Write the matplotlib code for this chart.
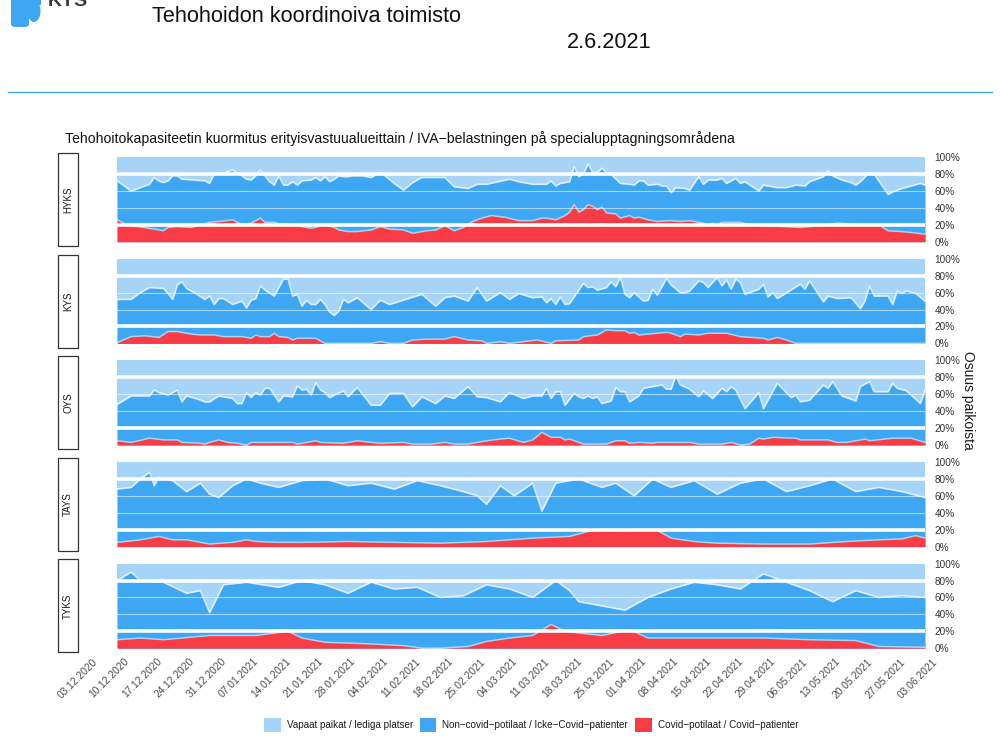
import datetime as dt
import numpy as np
import matplotlib
matplotlib.use("Agg")
import matplotlib.pyplot as plt
import matplotlib.dates as mdates
import matplotlib.transforms as mtransforms
from matplotlib.patches import Patch, Rectangle, FancyBboxPatch, Ellipse

plt.rcParams['font.family'] = ['Liberation Sans', 'DejaVu Sans']

# ---------------- data ----------------
regions = ["HYKS", "KYS", "OYS", "TAYS", "TYKS"]
start_date = dt.datetime(2020, 12, 10)          # day 0 of the series
axis_start = dt.datetime(2020, 12, 3)
axis_end = dt.datetime(2021, 6, 3)
tick_labels = ["03.12.2020", "10.12.2020", "17.12.2020", "24.12.2020", "31.12.2020",
               "07.01.2021", "14.01.2021", "21.01.2021", "28.01.2021", "04.02.2021",
               "11.02.2021", "18.02.2021", "25.02.2021", "04.03.2021", "11.03.2021",
               "18.03.2021", "25.03.2021", "01.04.2021", "08.04.2021", "15.04.2021",
               "22.04.2021", "29.04.2021", "06.05.2021", "13.05.2021", "20.05.2021",
               "27.05.2021", "03.06.2021"]
pct_ticks = [0, 20, 40, 60, 80, 100]

# occupied share (covid + non-covid), % of beds ; day offsets from start_date
hyks_occ_day = [0, 3, 7, 8, 9, 10, 11, 12, 13, 14, 17, 19, 20, 21, 23, 24, 25, 26, 27, 28, 29, 30, 31, 32, 33, 34, 35, 36, 37, 38, 39, 40, 42, 43, 44, 45, 46, 47, 48, 49, 50, 51, 53, 55, 56, 57, 58, 60, 62, 64, 66, 71, 73, 76, 78, 80, 85,
                87, 90, 93, 94, 95, 96, 98, 99, 100, 101, 102, 103, 104, 105, 106, 107, 109, 111, 112, 113, 114, 115, 117, 118, 119, 120, 121, 123, 124, 126, 127, 128, 130, 131, 132, 134, 135, 136, 139, 140, 143, 145, 147, 149, 150, 152, 153, 154, 155, 157, 159, 160, 161, 163, 164, 167, 168, 170, 174, 175]
hyks_occ = [72, 60, 68, 76, 72, 70, 72, 78, 78, 74, 73, 72, 69, 80, 81, 83, 85, 81, 78, 74, 73, 78, 85, 78, 71, 67, 78, 67, 67, 71, 67, 72, 73, 76, 72, 77, 71, 74, 78, 77, 77, 78, 78, 76, 79, 82, 78, 69, 61, 70, 76, 76, 65, 63, 68, 68, 74,
            71, 68, 68, 72, 66, 69, 71, 89, 77, 80, 92, 82, 82, 87, 82, 80, 69, 68, 67, 72, 72, 67, 68, 66, 66, 58, 64, 63, 61, 77, 68, 73, 73, 75, 69, 75, 69, 71, 60, 67, 64, 64, 67, 66, 71, 75, 77, 84, 78, 73, 70, 67, 71, 82, 80, 56, 59, 63, 69, 67]
hyks_cov_day = [0, 2, 8, 10, 11, 13, 16, 20, 22, 25, 27, 29, 31, 32, 34, 35, 37, 39, 42, 45, 47, 48, 50, 52, 55, 57, 59, 62, 64, 67, 69, 71, 73, 75, 77, 79, 81, 84, 87, 90, 92, 93, 95, 97, 98, 99, 100, 101, 102, 103, 104, 105, 106, 108, 109, 111, 112, 113, 115, 117, 120, 122, 124, 127, 128, 129, 130, 131, 133, 135, 137, 148, 152, 156, 159, 161, 165, 167, 170, 172, 175]
hyks_cov = [26, 20, 15, 13, 17, 18, 17, 23, 24, 26, 20, 22, 28, 23, 23, 21, 21, 19, 16, 20, 17, 14, 12, 12, 14, 18, 15, 14, 10, 13, 14, 19, 13, 17, 24, 28, 31, 29, 25, 25, 28, 28, 26, 31, 35, 44, 35, 38, 44, 42, 38, 41, 34, 33, 28, 31, 28, 29, 26, 24, 25, 24, 25, 22, 20, 22, 20, 23, 23, 23, 20, 17, 19, 22, 21, 20, 20, 13, 12, 11, 9]

kys_occ_day = [0, 3, 5, 7, 10, 11, 12, 13, 14, 15, 17, 19, 20, 21, 22, 23, 25, 27, 28, 29, 30, 31, 32, 34, 35, 36, 37, 38, 39, 40, 41, 42, 43, 44, 45, 46, 47, 48, 49, 50, 52, 55, 57, 59, 66, 69, 71, 73, 76, 78, 80, 83, 85, 87,
               90, 92, 93, 94, 95, 96, 97, 98, 101, 102, 103, 104, 106, 107, 108, 109, 110, 111, 112, 113, 114, 115, 116, 117, 119, 120, 122, 123, 124, 126, 127, 128, 130, 131, 132, 133, 134, 135, 136, 139, 140, 141, 142, 143, 148, 149, 150, 153, 154, 156, 159, 161, 162, 163, 164, 167, 168, 169, 170, 171, 173, 175]
kys_occ = [52, 52, 60, 66, 65, 59, 52, 69, 73, 65, 59, 52, 56, 46, 53, 53, 46, 50, 42, 51, 53, 68, 63, 56, 66, 76, 76, 56, 58, 44, 51, 46, 46, 52, 46, 37, 33, 38, 52, 48, 54, 40, 51, 46, 58, 44, 54, 56, 50, 66, 50, 60, 52, 59,
           54, 55, 48, 53, 46, 55, 46, 47, 71, 66, 67, 63, 66, 73, 67, 78, 58, 54, 60, 55, 50, 51, 64, 57, 77, 69, 60, 60, 62, 74, 72, 66, 78, 68, 75, 64, 76, 72, 58, 64, 70, 55, 60, 53, 70, 64, 74, 49, 56, 53, 54, 41, 50, 68, 56, 56, 46, 62, 59, 62, 59, 50]
kys_cov_day = [0, 3, 6, 9, 11, 13, 16, 18, 21, 23, 27, 29, 30, 31, 33, 34, 35, 37, 38, 39, 43, 45, 55, 57, 59, 62, 64, 67, 71, 73, 76, 79, 80, 83, 85, 88, 91, 94, 95, 100, 101, 104, 106, 108, 110, 111, 112, 113, 115, 119, 120, 122, 123, 126, 128, 132, 135, 140, 141, 143, 145, 147, 175]
kys_cov = [1, 8, 9, 7, 14, 14, 11, 10, 10, 8, 8, 6, 10, 8, 8, 12, 8, 7, 4, 6, 6, 0, 0, 2, 0, 0, 4, 5, 5, 8, 4, 3, 0, 2, 0, 2, 4, 0, 3, 4, 8, 10, 16, 15, 15, 12, 13, 10, 11, 13, 12, 8, 11, 10, 12, 12, 8, 6, 4, 7, 4, 0, 0]

oys_occ_day = [0, 3, 7, 8, 9, 11, 13, 14, 15, 17, 19, 20, 22, 25, 26, 27, 28, 29, 30, 31, 32, 33, 35, 36, 38, 39, 40, 41, 42, 43, 44, 45, 46, 47, 49, 50, 52, 55, 57, 59, 62, 64, 66, 69, 71, 73, 76, 78, 80, 83, 85, 88,
               90, 92, 93, 94, 95, 96, 97, 99, 100, 101, 102, 103, 104, 105, 107, 108, 109, 110, 111, 113, 114, 116, 118, 119, 120, 121, 122, 124, 126, 127, 129, 131, 132, 133, 134, 136, 139, 140, 143, 146, 147, 148, 150, 153, 154, 155, 157, 160, 161, 163, 164, 167, 168, 169, 171, 174, 175]
oys_occ = [48, 58, 58, 65, 62, 59, 65, 51, 58, 55, 51, 51, 58, 55, 49, 49, 62, 56, 62, 59, 67, 67, 51, 58, 57, 70, 65, 66, 59, 74, 65, 62, 56, 59, 64, 57, 68, 47, 47, 61, 61, 45, 57, 49, 58, 55, 69, 57, 56, 51, 62, 55,
           58, 58, 67, 55, 63, 63, 47, 61, 57, 55, 58, 55, 57, 49, 52, 68, 63, 63, 51, 58, 67, 69, 71, 66, 66, 82, 71, 66, 57, 64, 55, 67, 63, 69, 65, 43, 62, 43, 73, 56, 59, 51, 53, 71, 67, 75, 58, 52, 69, 75, 63, 63, 73, 67, 64, 49, 65]
oys_cov_day = [0, 3, 7, 10, 13, 14, 18, 19, 20, 22, 24, 26, 28, 29, 31, 38, 39, 43, 44, 49, 52, 55, 57, 62, 64, 68, 71, 73, 76, 80, 83, 85, 88, 90, 92, 94, 96, 97, 98, 101, 106, 108, 110, 111, 113, 116, 117, 124, 126, 131, 133, 135, 137, 139, 140, 142, 147, 148, 154, 156, 158, 162, 163, 168, 172, 175]
oys_cov = [5, 3, 8, 6, 6, 3, 2, 1, 3, 6, 3, 2, 0, 3, 3, 3, 1, 5, 3, 2, 5, 3, 2, 3, 1, 1, 3, 1, 1, 5, 7, 8, 3, 6, 15, 9, 9, 6, 7, 1, 1, 5, 5, 2, 3, 2, 3, 3, 1, 1, 3, 0, 1, 8, 7, 9, 8, 6, 6, 3, 3, 7, 5, 8, 8, 3]

tays_occ_day = [0, 3, 5, 7, 8, 9, 12, 15, 18, 20, 22, 25, 28, 31, 35, 40, 45, 50, 55, 60, 65, 70, 75, 78, 80, 83, 86, 90, 92, 95, 100, 105, 108, 112, 116, 120, 125, 130, 135, 140, 145, 150, 155, 160, 165, 170, 175]
tays_occ = [68, 70, 80, 88, 72, 82, 78, 65, 75, 62, 58, 72, 80, 75, 70, 78, 80, 72, 75, 68, 78, 72, 65, 60, 50, 72, 60, 75, 42, 75, 80, 70, 75, 60, 80, 70, 78, 62, 75, 80, 65, 72, 80, 65, 70, 65, 58]
tays_cov_day = [0, 5, 9, 12, 15, 20, 25, 28, 30, 35, 40, 50, 60, 70, 80, 90, 98, 102, 105, 110, 115, 117, 120, 125, 130, 140, 150, 158, 165, 170, 173, 175]
tays_cov = [5, 8, 12, 8, 8, 3, 5, 8, 6, 5, 5, 6, 5, 4, 6, 10, 12, 18, 20, 19, 20, 19, 10, 6, 4, 3, 3, 6, 8, 9, 13, 10]

tyks_occ_day = [0, 3, 5, 10, 15, 18, 20, 23, 28, 35, 40, 45, 50, 55, 60, 65, 70, 75, 80, 85, 90, 95, 98, 100, 105, 110, 115, 120, 125, 130, 135, 140, 145, 150, 155, 160, 165, 170, 175]
tyks_occ = [80, 90, 80, 78, 65, 68, 42, 75, 78, 72, 80, 75, 65, 78, 70, 72, 60, 62, 75, 70, 60, 80, 68, 55, 50, 45, 60, 70, 78, 75, 70, 88, 78, 68, 55, 68, 60, 62, 60]
tyks_cov_day = [0, 5, 10, 20, 30, 37, 40, 45, 55, 62, 66, 70, 76, 80, 85, 90, 94, 97, 100, 105, 111, 115, 120, 130, 140, 150, 160, 165, 175]
tyks_cov = [10, 12, 10, 15, 15, 20, 12, 7, 5, 3, 0, 0, 2, 8, 12, 15, 28, 20, 18, 15, 22, 12, 12, 12, 12, 10, 9, 2, 1]

series = {
    "HYKS": (hyks_occ_day, hyks_occ, hyks_cov_day, hyks_cov),
    "KYS": (kys_occ_day, kys_occ, kys_cov_day, kys_cov),
    "OYS": (oys_occ_day, oys_occ, oys_cov_day, oys_cov),
    "TAYS": (tays_occ_day, tays_occ, tays_cov_day, tays_cov),
    "TYKS": (tyks_occ_day, tyks_occ, tyks_cov_day, tyks_cov),
}

legend_labels = ["Vapaat paikat / lediga platser",
                 "Non\u2212covid\u2212potilaat / Icke\u2212Covid\u2212patienter",
                 "Covid\u2212potilaat / Covid\u2212patienter"]

# ---------------- style ----------------
C_FREE = "#a6d3f8"
C_NON = "#3ea7f3"
C_COV = "#f83c46"
C_LINE = "#3ea7f3"

W, H = 1000, 736
fig = plt.figure(figsize=(W / 100, H / 100), dpi=100)


def fx(px):
    return px / W


def fy(py):
    return 1 - py / H


# header
fig.text(fx(152), fy(17), "Tehohoidon koordinoiva toimisto", fontsize=15.6,
         color="#111111", va="center", ha="left")
fig.text(fx(567), fy(42), "2.6.2021", fontsize=15.6, color="#111111", va="center", ha="left")
fig.add_artist(plt.Line2D([fx(8), fx(992)], [fy(92), fy(92)], color=C_LINE, lw=1.0))
# partial logo (cut at top edge, as in the reference)
fig.add_artist(FancyBboxPatch((fx(15), fy(24)), fx(10), 30 / H, boxstyle="round,pad=0.004",
                              facecolor=C_LINE, edgecolor="none"))
fig.add_artist(Ellipse((fx(34), fy(11)), fx(13), 22 / H, facecolor=C_LINE, edgecolor="none"))
fig.add_artist(Rectangle((fx(28), fy(5)), fx(13), 10 / H, facecolor=C_LINE, edgecolor="none"))
fig.text(fx(48), fy(6), "KYS", fontsize=14, fontweight="bold", color="#3a3a3a",
         va="baseline", ha="left")

# chart title
fig.text(fx(65), fy(139), "Tehohoitokapasiteetin kuormitus erityisvastuualueittain / "
         "IVA\u2212belastningen på specialupptagningsområdena",
         fontsize=10.1, color="#111111", va="center", ha="left")

base = mdates.date2num(start_date)
x0, x1 = mdates.date2num(axis_start), mdates.date2num(axis_end)
tick_pos = [mdates.date2num(dt.datetime.strptime(t, "%d.%m.%Y")) for t in tick_labels]

ax_left, ax_w = fx(85), fx(840)
panel_h = 93
panel_step = 101.6
first_top = 153

for i, name in enumerate(regions):
    occ_day, occ, cov_day, cov = series[name]
    top = first_top + i * panel_step
    ax = fig.add_axes([ax_left, fy(top + panel_h), ax_w, panel_h / H])
    od = base + np.asarray(occ_day, dtype=float)
    cd = base + np.asarray(cov_day, dtype=float)
    ax.fill_between([od[0], od[-1]], 0, 100, color=C_FREE, lw=0, zorder=1)
    ax.fill_between(od, 0, occ, color=C_NON, lw=0, zorder=2)
    ax.fill_between(cd, 0, cov, color=C_COV, lw=0, zorder=3)
    ax.plot(od, occ, color="white", alpha=0.7, lw=1.2, zorder=4)
    ax.plot(cd, cov, color="white", alpha=0.55, lw=1.1, zorder=4)
    for yv in (40, 60):
        ax.axhline(yv, color="white", lw=0.8, alpha=0.55, zorder=5)
    for yv in (20, 80):
        ax.axhline(yv, color="white", lw=2.6, zorder=5)
    ax.set_xlim(x0, x1)
    ax.set_ylim(-5, 105)
    for s in ax.spines.values():
        s.set_visible(False)
    ax.set_facecolor("white")
    ax.yaxis.tick_right()
    ax.set_yticks(pct_ticks)
    ax.set_yticklabels([f"{p}%" for p in pct_ticks])
    ax.tick_params(axis="y", length=0, labelsize=7.2, colors="#333333", pad=7)
    ax.set_xticks(tick_pos)
    if i == len(regions) - 1:
        ax.set_xticklabels(tick_labels, rotation=45, ha="right", va="top",
                           rotation_mode="anchor")
        ax.tick_params(axis="x", length=0, labelsize=7.4, colors="#4d4d4d", pad=3)
        shift = mtransforms.ScaledTranslation(7 / 100, 0, fig.dpi_scale_trans)
        for lab in ax.get_xticklabels():
            lab.set_transform(lab.get_transform() + shift)
    else:
        ax.set_xticklabels([])
        ax.tick_params(axis="x", length=0)
    # facet strip on the left
    fig.add_artist(Rectangle((fx(58), fy(top + panel_h)), fx(20), panel_h / H,
                             facecolor="white", edgecolor="#333333", lw=0.9))
    fig.text(fx(68), fy(top + panel_h / 2), name, rotation=90, fontsize=7,
             color="#1a1a1a", ha="center", va="center")

fig.text(fx(968), fy(400), "Osuus paikoista", rotation=270, fontsize=10,
         color="#1a1a1a", ha="center", va="center")

handles = [Patch(facecolor=c, edgecolor="none") for c in (C_FREE, C_NON, C_COV)]
fig.legend(handles, legend_labels, loc="center", bbox_to_anchor=(fx(531), fy(725)),
           ncol=3, frameon=False, fontsize=7.1, handlelength=1.7, handleheight=1.7,
           handletextpad=0.6, columnspacing=0.7, labelcolor="#1a1a1a")

fig.savefig("out.png", dpi=100)
